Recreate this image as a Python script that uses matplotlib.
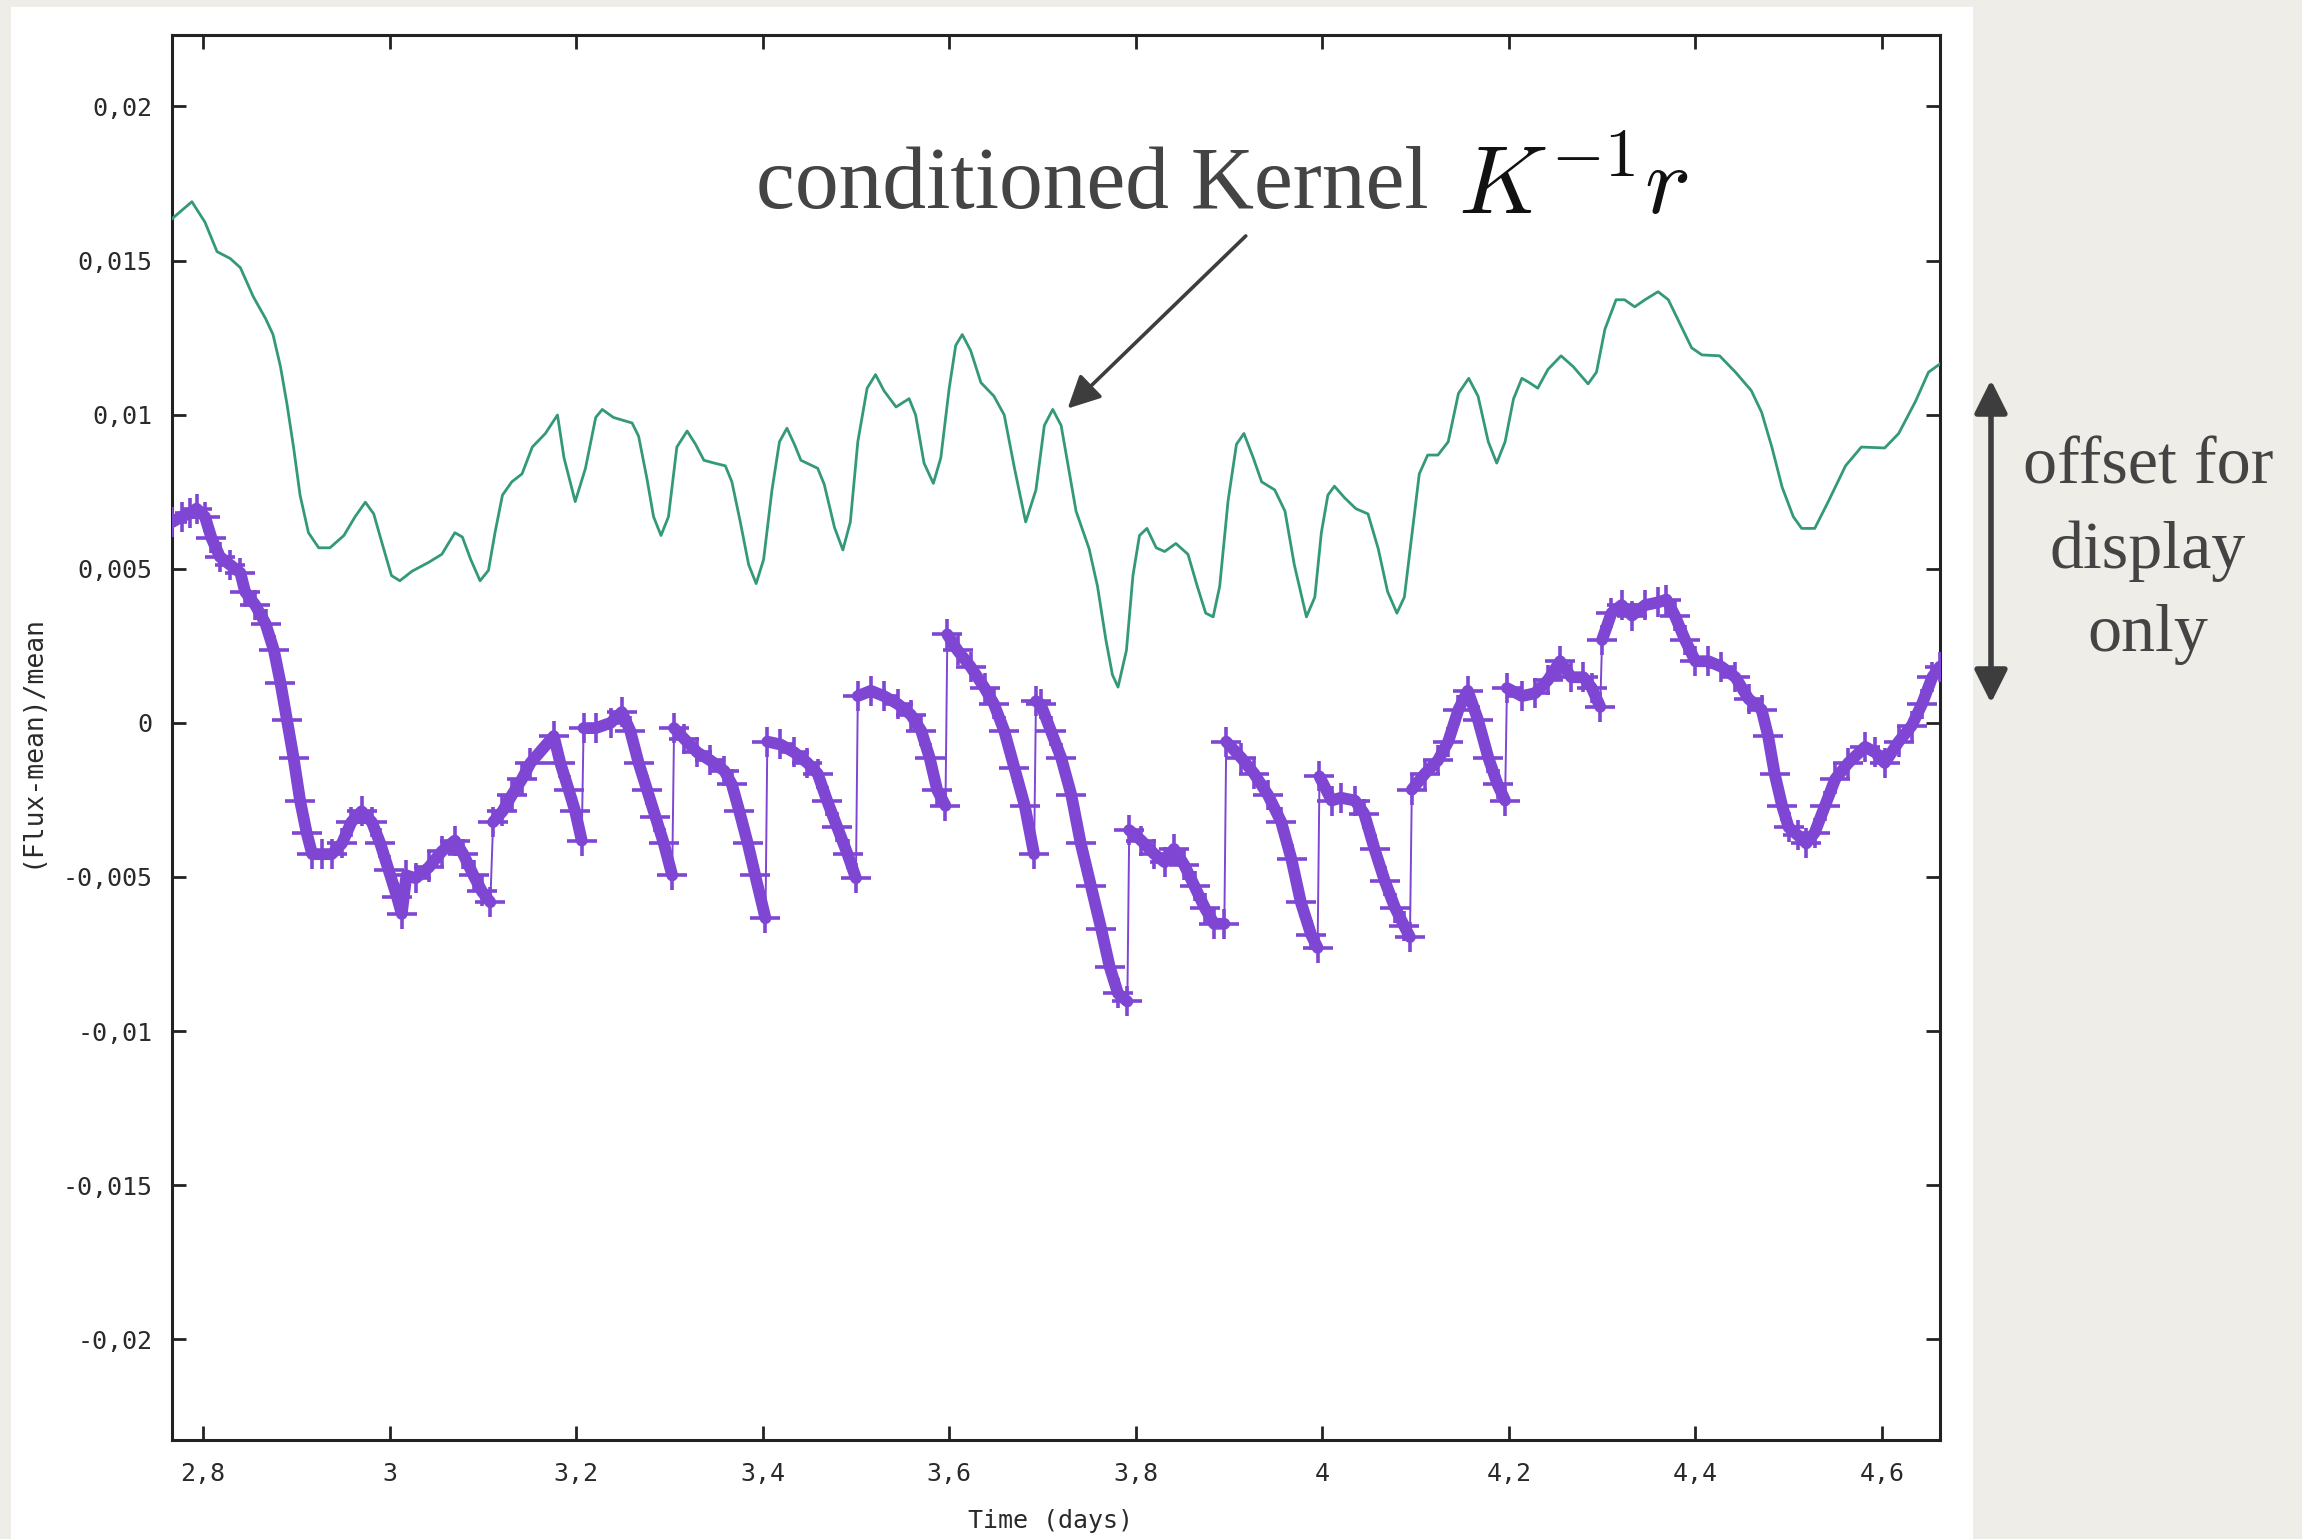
import numpy as np
import matplotlib.pyplot as plt
from matplotlib.patches import Rectangle, FancyArrowPatch
from matplotlib.ticker import FuncFormatter

plt.rcParams['mathtext.fontset'] = 'cm'

# conditioned kernel K^-1 r (shifted up for display)
t_kernel = [
    2.766, 2.788, 2.802, 2.815, 2.829, 2.840, 2.854, 2.867, 2.875, 2.883,
    2.890, 2.897, 2.904, 2.913, 2.924, 2.936, 2.951, 2.963, 2.974, 2.983,
    2.992, 3.002, 3.011, 3.024, 3.042, 3.056, 3.070, 3.078, 3.087, 3.097,
    3.106, 3.113, 3.121, 3.131, 3.142, 3.153, 3.167, 3.180, 3.187, 3.199,
    3.210, 3.221, 3.228, 3.240, 3.260, 3.267, 3.276, 3.283, 3.291, 3.299,
    3.308, 3.319, 3.328, 3.337, 3.348, 3.360, 3.367, 3.376, 3.385, 3.393,
    3.401, 3.410, 3.418, 3.426, 3.434, 3.441, 3.459, 3.466, 3.477, 3.486,
    3.494, 3.502, 3.512, 3.521, 3.530, 3.543, 3.557, 3.564, 3.573, 3.583,
    3.591, 3.600, 3.607, 3.614, 3.623, 3.634, 3.648, 3.659, 3.670, 3.682,
    3.693, 3.702, 3.711, 3.720, 3.729, 3.736, 3.750, 3.759, 3.768, 3.775,
    3.781, 3.790, 3.797, 3.804, 3.812, 3.822, 3.831, 3.843, 3.856, 3.866,
    3.875, 3.883, 3.890, 3.899, 3.908, 3.916, 3.926, 3.935, 3.949, 3.960,
    3.970, 3.983, 3.992, 3.999, 4.006, 4.013, 4.024, 4.036, 4.049, 4.060,
    4.070, 4.080, 4.088, 4.095, 4.104, 4.113, 4.124, 4.135, 4.146, 4.157,
    4.167, 4.178, 4.187, 4.196, 4.205, 4.214, 4.222, 4.231, 4.242, 4.256,
    4.269, 4.285, 4.294, 4.303, 4.315, 4.324, 4.335, 4.346, 4.360, 4.371,
    4.385, 4.396, 4.407, 4.426, 4.443, 4.460, 4.471, 4.482, 4.493, 4.505,
    4.514, 4.528, 4.543, 4.561, 4.578, 4.603, 4.618, 4.636, 4.650, 4.662,
]
kernel = [
    0.01634, 0.01691, 0.01625, 0.01529, 0.01507, 0.01477, 0.01382, 0.01312, 0.01260, 0.01156,
    0.01034, 0.00895, 0.00739, 0.00617, 0.00568, 0.00568, 0.00608, 0.00669, 0.00716, 0.00678,
    0.00582, 0.00478, 0.00461, 0.00492, 0.00521, 0.00547, 0.00617, 0.00603, 0.00530, 0.00461,
    0.00495, 0.00617, 0.00739, 0.00782, 0.00808, 0.00895, 0.00939, 0.00999, 0.00860, 0.00718,
    0.00826, 0.00991, 0.01017, 0.00991, 0.00973, 0.00930, 0.00791, 0.00669, 0.00608, 0.00669,
    0.00895, 0.00947, 0.00904, 0.00852, 0.00843, 0.00834, 0.00782, 0.00652, 0.00513, 0.00452,
    0.00530, 0.00756, 0.00912, 0.00956, 0.00904, 0.00852, 0.00826, 0.00774, 0.00634, 0.00561,
    0.00652, 0.00912, 0.01086, 0.01130, 0.01078, 0.01025, 0.01052, 0.00999, 0.00843, 0.00777,
    0.00860, 0.01086, 0.01225, 0.01260, 0.01208, 0.01104, 0.01060, 0.00999, 0.00826, 0.00652,
    0.00756, 0.00965, 0.01017, 0.00965, 0.00808, 0.00687, 0.00565, 0.00443, 0.00269, 0.00156,
    0.00116, 0.00235, 0.00478, 0.00608, 0.00631, 0.00568, 0.00556, 0.00582, 0.00547, 0.00443,
    0.00356, 0.00344, 0.00443, 0.00721, 0.00904, 0.00939, 0.00860, 0.00782, 0.00756, 0.00687,
    0.00513, 0.00344, 0.00408, 0.00617, 0.00739, 0.00768, 0.00730, 0.00695, 0.00678, 0.00565,
    0.00426, 0.00356, 0.00408, 0.00582, 0.00808, 0.00869, 0.00869, 0.00912, 0.01069, 0.01118,
    0.01060, 0.00912, 0.00843, 0.00912, 0.01051, 0.01118, 0.01104, 0.01086, 0.01147, 0.01191,
    0.01156, 0.01100, 0.01138, 0.01277, 0.01373, 0.01373, 0.01350, 0.01373, 0.01399, 0.01373,
    0.01286, 0.01217, 0.01194, 0.01191, 0.01138, 0.01078, 0.01008, 0.00895, 0.00765, 0.00669,
    0.00631, 0.00631, 0.00721, 0.00834, 0.00895, 0.00892, 0.00939, 0.01043, 0.01138, 0.01164,
]

# relative flux (Flux-mean)/mean
t_flux = [
    2.767, 2.777, 2.786, 2.793, 2.802, 2.809, 2.818, 2.829, 2.840, 2.845,
    2.856, 2.867, 2.876, 2.883, 2.890, 2.897, 2.904, 2.911, 2.917, 2.927,
    2.938, 2.949, 2.959, 2.970, 2.981, 2.990, 2.999, 3.008, 3.013, 3.018,
    3.028, 3.042, 3.056, 3.070, 3.079, 3.090, 3.099, 3.108, 3.111, 3.121,
    3.131, 3.142, 3.151, 3.176, 3.183, 3.192, 3.199, 3.206, 3.208, 3.221,
    3.237, 3.249, 3.258, 3.267, 3.276, 3.285, 3.294, 3.303, 3.305, 3.316,
    3.330, 3.344, 3.359, 3.367, 3.375, 3.384, 3.392, 3.403, 3.405, 3.419,
    3.434, 3.448, 3.459, 3.469, 3.480, 3.491, 3.500, 3.502, 3.516, 3.530,
    3.545, 3.559, 3.570, 3.579, 3.587, 3.596, 3.598, 3.609, 3.623, 3.638,
    3.648, 3.659, 3.670, 3.681, 3.691, 3.693, 3.698, 3.709, 3.720, 3.731,
    3.741, 3.752, 3.763, 3.772, 3.781, 3.791, 3.793, 3.806, 3.820, 3.831,
    3.841, 3.852, 3.863, 3.874, 3.884, 3.895, 3.897, 3.913, 3.927, 3.942,
    3.956, 3.967, 3.977, 3.988, 3.995, 3.997, 4.010, 4.020, 4.035, 4.045,
    4.056, 4.067, 4.078, 4.088, 4.094, 4.096, 4.110, 4.124, 4.135, 4.146,
    4.156, 4.167, 4.178, 4.188, 4.196, 4.198, 4.214, 4.228, 4.242, 4.255,
    4.267, 4.280, 4.289, 4.298, 4.300, 4.310, 4.321, 4.332, 4.346, 4.360,
    4.369, 4.378, 4.389, 4.400, 4.414, 4.428, 4.443, 4.457, 4.471, 4.478,
    4.485, 4.493, 4.500, 4.510, 4.519, 4.528, 4.539, 4.550, 4.564, 4.582,
    4.593, 4.603, 4.618, 4.632, 4.643, 4.654, 4.662,
]
flux = [
    0.00652, 0.00669, 0.00680, 0.00695, 0.00669, 0.00600, 0.00539, 0.00513, 0.00487, 0.00426,
    0.00382, 0.00322, 0.00235, 0.00130, 0.00009, -0.00113, -0.00252, -0.00356, -0.00426, -0.00426,
    -0.00426, -0.00391, -0.00322, -0.00287, -0.00322, -0.00391, -0.00478, -0.00565, -0.00620, -0.00495,
    -0.00504, -0.00469, -0.00417, -0.00382, -0.00426, -0.00495, -0.00547, -0.00582, -0.00322, -0.00287,
    -0.00235, -0.00182, -0.00130, -0.00043, -0.00130, -0.00217, -0.00287, -0.00382, -0.00017, -0.00017,
    0.00000, 0.00035, -0.00026, -0.00130, -0.00217, -0.00304, -0.00391, -0.00495, -0.00017, -0.00052,
    -0.00096, -0.00122, -0.00156, -0.00200, -0.00287, -0.00391, -0.00495, -0.00634, -0.00061, -0.00070,
    -0.00096, -0.00130, -0.00165, -0.00252, -0.00339, -0.00426, -0.00504, 0.00087, 0.00104, 0.00087,
    0.00061, 0.00026, -0.00026, -0.00113, -0.00217, -0.00269, 0.00287, 0.00235, 0.00182, 0.00113,
    0.00061, -0.00026, -0.00148, -0.00269, -0.00426, 0.00070, 0.00061, -0.00026, -0.00113, -0.00235,
    -0.00391, -0.00530, -0.00669, -0.00791, -0.00878, -0.00904, -0.00348, -0.00382, -0.00426, -0.00452,
    -0.00409, -0.00461, -0.00530, -0.00600, -0.00652, -0.00652, -0.00061, -0.00113, -0.00165, -0.00235,
    -0.00322, -0.00443, -0.00582, -0.00687, -0.00730, -0.00174, -0.00252, -0.00243, -0.00252, -0.00295,
    -0.00409, -0.00513, -0.00600, -0.00660, -0.00695, -0.00217, -0.00165, -0.00122, -0.00061, 0.00043,
    0.00104, 0.00009, -0.00113, -0.00200, -0.00252, 0.00113, 0.00087, 0.00096, 0.00139, 0.00200,
    0.00148, 0.00148, 0.00113, 0.00052, 0.00269, 0.00356, 0.00382, 0.00348, 0.00382, 0.00391,
    0.00400, 0.00348, 0.00269, 0.00200, 0.00200, 0.00182, 0.00148, 0.00078, 0.00043, -0.00043,
    -0.00165, -0.00269, -0.00339, -0.00365, -0.00391, -0.00356, -0.00269, -0.00182, -0.00130, -0.00078,
    -0.00096, -0.00130, -0.00061, -0.00009, 0.00061, 0.00148, 0.00182,
]

x_ticks = [2.8, 3.0, 3.2, 3.4, 3.6, 3.8, 4.0, 4.2, 4.4, 4.6]
y_ticks = [-0.02, -0.015, -0.01, -0.005, 0.0, 0.005, 0.01, 0.015, 0.02]

W, H = 2302, 1539
fig = plt.figure(figsize=(W / 100, H / 100), dpi=100)
fig.patch.set_facecolor('#efede7')
# white slide panel behind the plot
fig.add_artist(Rectangle((11 / W, 0), 1962 / W, 1532 / H, transform=fig.transFigure,
                         facecolor='white', edgecolor='none', zorder=0))

ax = fig.add_axes([172 / W, 99 / H, 1768 / W, 1405 / H])
ax.set_facecolor('white')

purple = '#7f45d3'
green = '#33997a'

ax.plot(t_kernel, kernel, color=green, lw=2.0, zorder=3)

# thick band along each continuous stretch, thin connector at the jumps
tf = np.array(t_flux)
fv = np.array(flux)
jump = (np.diff(tf) < 0.004) & (np.abs(np.diff(fv)) > 0.0015)
band_t, band_v = [], []
for i in range(len(tf)):
    band_t.append(tf[i])
    band_v.append(fv[i])
    if i < len(jump) and jump[i]:
        band_t.append(np.nan)
        band_v.append(np.nan)
ax.plot(tf, fv, color=purple, lw=1.4, zorder=4)
ax.plot(band_t, band_v, color=purple, lw=8.5, solid_capstyle='round',
        solid_joinstyle='round', zorder=4)
ax.plot(tf, fv, ls='none', marker='+', ms=21, mew=2.6, color=purple, zorder=5)

ax.set_xlim(2.7667, 4.6623)
ax.set_ylim(-0.02327, 0.02232)
ax.set_xticks(x_ticks)
ax.set_yticks(y_ticks)

fmt = FuncFormatter(lambda v, pos: ('%g' % round(v, 4)).replace('.', ','))
ax.xaxis.set_major_formatter(fmt)
ax.yaxis.set_major_formatter(fmt)

for s in ax.spines.values():
    s.set_linewidth(2.2)
    s.set_color('#222222')
ax.tick_params(direction='in', length=10, width=2, color='#222222',
               top=True, right=True, labelsize=18, labelcolor='#2a2a2a')
ax.tick_params(axis='x', pad=16)
ax.tick_params(axis='y', pad=14)
for lab in ax.get_xticklabels() + ax.get_yticklabels():
    lab.set_family('DejaVu Sans Mono')

ax.set_xlabel('Time (days)', family='DejaVu Sans Mono', fontsize=18, color='#2a2a2a')
ax.set_ylabel('(Flux-mean)/mean', family='DejaVu Sans Mono', fontsize=19, color='#2a2a2a')
ax.xaxis.set_label_coords(0.497, -0.0577)
ax.xaxis.label.set_va('center')
ax.yaxis.set_label_coords(-0.0792, 0.4975)
ax.yaxis.label.set_va('center')

# callout for the kernel curve
fig.text(756 / W, 1 - 208 / H, 'conditioned Kernel', family='Liberation Serif',
         fontsize=63, color='#444444', ha='left', va='baseline')
fig.text(1458 / W, 1 - 214 / H, r'$K^{-1}r$', fontsize=70, color='#111111',
         ha='left', va='baseline')
ax.annotate('', xy=(3.727, 0.0102), xytext=(3.918, 0.0158),
            arrowprops=dict(arrowstyle='-|>,head_length=1.1,head_width=0.55',
                            mutation_scale=18, color='#3d3d3d', lw=2.6,
                            shrinkA=0, shrinkB=0))

# vertical offset marker on the right
fig.add_artist(FancyArrowPatch((1991 / W, 1 - 703 / H), (1991 / W, 1 - 380 / H),
                               transform=fig.transFigure,
                               arrowstyle='<|-|>,head_length=1.0,head_width=0.5',
                               mutation_scale=20, lw=4, color='#3d3d3d',
                               shrinkA=0, shrinkB=0))
fig.text(2148 / W, 1 - 551 / H, 'offset for\ndisplay\nonly', family='Liberation Serif',
         fontsize=49, color='#444444', ha='center', va='center', linespacing=1.48)

fig.savefig('out.png', dpi=100, facecolor=fig.get_facecolor())
